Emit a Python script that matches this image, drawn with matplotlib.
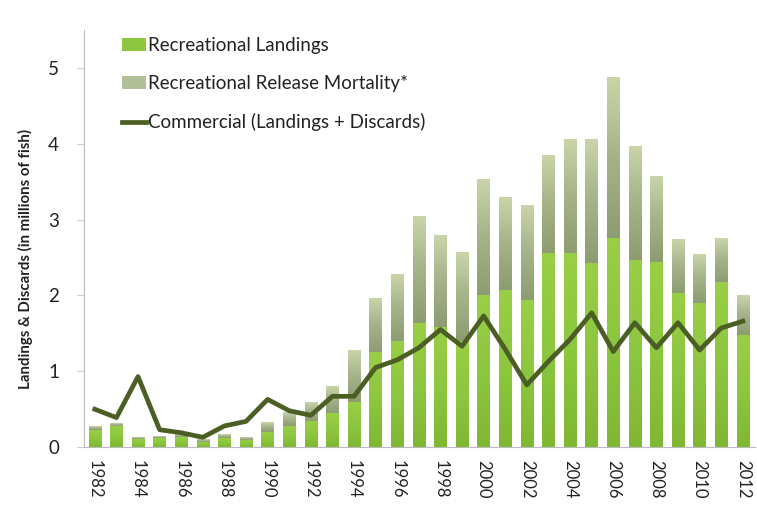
import matplotlib
matplotlib.use("Agg")
import matplotlib.pyplot as plt
from matplotlib.colors import LinearSegmentedColormap
import numpy as np

plt.rcParams['font.family'] = ['Lato', 'DejaVu Sans']

years = list(range(1982, 2013))
rec_landings = [0.22, 0.28, 0.11, 0.12, 0.13, 0.07, 0.12, 0.10, 0.20, 0.28,
                0.35, 0.45, 0.60, 1.25, 1.40, 1.63, 1.58, 1.40, 2.00, 2.07,
                1.94, 2.56, 2.56, 2.43, 2.76, 2.47, 2.44, 2.03, 1.90, 2.18, 1.48]
rec_total = [0.27, 0.31, 0.13, 0.14, 0.16, 0.10, 0.16, 0.13, 0.32, 0.46,
             0.59, 0.80, 1.28, 1.95, 2.28, 3.03, 2.79, 2.56, 3.52, 3.29,
             3.18, 3.85, 4.06, 4.06, 4.87, 3.96, 3.57, 2.74, 2.54, 2.75, 2.00]
rec_release = [t - l for t, l in zip(rec_total, rec_landings)]
commercial = [0.50, 0.39, 0.93, 0.23, 0.19, 0.13, 0.28, 0.34, 0.63, 0.48,
              0.42, 0.67, 0.67, 1.05, 1.15, 1.31, 1.55, 1.33, 1.73, 1.29,
              0.82, 1.13, 1.42, 1.77, 1.26, 1.64, 1.31, 1.64, 1.28, 1.57, 1.66]
xtick_years = list(range(1982, 2013, 2))

fig = plt.figure(figsize=(7.57, 5.14), dpi=100)
ax = fig.add_axes([0.111, 0.130, 0.886, 0.812])

w = 0.58
land_col = '#8dc63f'
rel_col = '#b3bf98'
line_col = '#4b5f25'

rel_cmap = LinearSegmentedColormap.from_list('rel', ['#8e9c74', '#a5b28a', '#c9d4a8'])
land_cmap = LinearSegmentedColormap.from_list('land', ['#80b834', '#8dc63f', '#98cf47'])

bars_l = ax.bar(years, rec_landings, width=w, color=land_col, label='Recreational Landings', zorder=2)
bars_r = ax.bar(years, rec_release, bottom=rec_landings, width=w, color=rel_col,
                label='Recreational Release Mortality*', zorder=2)
grad = np.linspace(0, 1, 64).reshape(-1, 1)
for bars, cmap in ((bars_l, land_cmap), (bars_r, rel_cmap)):
    for p in bars:
        x0, y0 = p.get_x(), p.get_y()
        ww, hh = p.get_width(), p.get_height()
        if hh <= 0:
            continue
        ax.imshow(grad, extent=[x0, x0 + ww, y0, y0 + hh], origin='lower',
                  aspect='auto', cmap=cmap, zorder=2.1, interpolation='bilinear')
ax.plot(years, commercial, color=line_col, lw=3.4, label='Commercial (Landings + Discards)', zorder=3)

ax.set_xlim(1981.5, 2012.55)
ax.set_ylim(0, 5.5)
ax.set_yticks([0, 1, 2, 3, 4, 5])
ax.set_xticks(xtick_years)
ax.set_xticklabels([str(y) for y in xtick_years], rotation=-90, fontsize=12, color='#222222')
ax.tick_params(axis='y', labelsize=13.5, colors='#222222', length=5, color='#cccccc', pad=13)
ax.tick_params(axis='x', length=0, pad=9)
for s in ['top', 'right']:
    ax.spines[s].set_visible(False)
ax.spines['left'].set_color('#bbbbbb')
ax.spines['bottom'].set_color('#bbbbbb')

ax.set_ylabel('Landings & Discards (in millions of fish)', fontsize=10.8, fontweight='bold',
              color='#222222')
ax.yaxis.set_label_coords(-0.076, 0.45)

handles, labels = ax.get_legend_handles_labels()
order = [labels.index('Recreational Landings'), labels.index('Recreational Release Mortality*'),
         labels.index('Commercial (Landings + Discards)')]
leg = ax.legend([handles[i] for i in order], [labels[i] for i in order],
                loc='upper left', bbox_to_anchor=(0.045, 1.0), frameon=False, fontsize=13.5,
                handlelength=1.3, handletextpad=0.1, labelspacing=1.12, borderaxespad=0.0)
for t in leg.get_texts():
    t.set_color('#222222')

fig.savefig('out.png', dpi=100)
